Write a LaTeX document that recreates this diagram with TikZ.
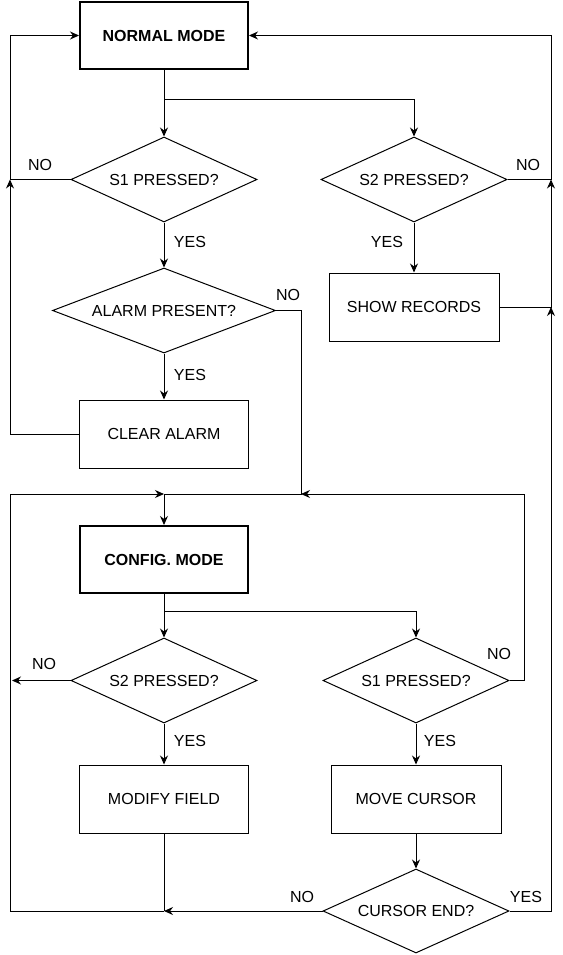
\documentclass[tikz,border=0pt]{standalone}
\usepackage{fontspec}
\setmainfont{Liberation Sans}
\usetikzlibrary{arrows.meta,shapes.geometric}

\begin{document}
\begin{tikzpicture}[x=1pt, y=-1pt, line width=1pt,
        >={Stealth[length=9pt, width=8pt]},
        font=\fontsize{16}{19}\selectfont,
        modebox/.style={draw, line width=2pt, minimum width=168pt, minimum height=67pt,
            font=\fontsize{16}{19}\selectfont\bfseries},
        stepbox/.style={draw, minimum width=169pt, minimum height=68pt},
        decision/.style={draw, diamond, aspect=2.2, inner sep=0pt,
            minimum width=186pt, minimum height=85pt},
        lbl/.style={inner sep=0pt}]
        \useasboundingbox (0,0) rectangle (562,955);

        % normal mode
        \node[modebox] (normal) at (164,35.5) {NORMAL MODE};
        \node[decision] (s1n) at (164,179.5) {S1 PRESSED?};
        \node[decision] (s2n) at (414,179.5) {S2 PRESSED?};
        \node[decision, minimum width=223pt] (alarm) at (164,310.5) {ALARM PRESENT?};
        \node[stepbox] (clear) at (164,434) {CLEAR ALARM};
        \node[stepbox, minimum width=170pt] (show) at (414,307) {SHOW RECORDS};

        % config mode
        \node[modebox] (config) at (164,559.5) {CONFIG. MODE};
        \node[decision] (s2c) at (164,680.5) {S2 PRESSED?};
        \node[decision] (s1c) at (416,680.5) {S1 PRESSED?};
        \node[stepbox] (modify) at (164,799) {MODIFY FIELD};
        \node[stepbox, minimum width=170pt] (move) at (416,799) {MOVE CURSOR};
        \node[decision, minimum height=84pt] (cend) at (416,911) {CURSOR END?};

        % bends
        \coordinate (split1) at (164,100);
        \coordinate (left1) at (10,179.5);
        \coordinate (right1) at (551,179.5);
        \coordinate (right2) at (551,307);
        \coordinate (alarmno) at (301,494);
        \coordinate (join) at (164,494);
        \coordinate (left2) at (10,494);
        \coordinate (s1cno) at (524,494);
        \coordinate (split2) at (164,611);
        \coordinate (s2cno) at (12,680.5);
        \coordinate (bottom) at (164,911);

        % arrows, normal mode
        \draw[->] (normal.south) -- (s1n.north);
        \draw[->] (split1) -| (s2n.north);
        \draw[->] (s1n.west) -- (left1) |- (normal.west);
        \draw[->] (s1n.south) -- (alarm.north);
        \draw[->] (alarm.south) -- (clear.north);
        \draw[->] (clear.west) -| (left1);
        \draw[->] (s2n.east) -- (right1) |- (normal.east);
        \draw[->] (s2n.south) -- (show.north);
        \draw[->] (show.east) -| (right1);
        \draw[->] (alarm.east) -| (alarmno) -- (join) -- (config.north);

        % arrows, config mode
        \draw[->] (config.south) -- (s2c.north);
        \draw[->] (split2) -| (s1c.north);
        \draw[->] (s2c.west) -- (s2cno);
        \draw[->] (s2c.south) -- (modify.north);
        \draw[->] (s1c.east) -| (s1cno) -- (alarmno);
        \draw[->] (s1c.south) -- (move.north);
        \draw[->] (move.south) -- (cend.north);
        \draw[->] (cend.west) -- (bottom);
        \draw (modify.south) -- (bottom);
        \draw[->] (bottom) -| (left2) -- (join);
        \draw[->] (cend.east) -| (right2);

        % labels
        \node[lbl] (no1) at (40,165) {NO};
        \node[lbl] (yes1) at (190,242) {YES};
        \node[lbl] (no2) at (528,165) {NO};
        \node[lbl] (yes2) at (387,242) {YES};
        \node[lbl] (no3) at (288,295) {NO};
        \node[lbl] (yes3) at (190,375) {YES};
        \node[lbl] (no4) at (44,664) {NO};
        \node[lbl] (yes4) at (190,741) {YES};
        \node[lbl] (no5) at (499,654) {NO};
        \node[lbl] (yes5) at (440,741) {YES};
        \node[lbl] (no6) at (302,897) {NO};
        \node[lbl] (yes6) at (526,897) {YES};
    \end{tikzpicture}
\end{document}
